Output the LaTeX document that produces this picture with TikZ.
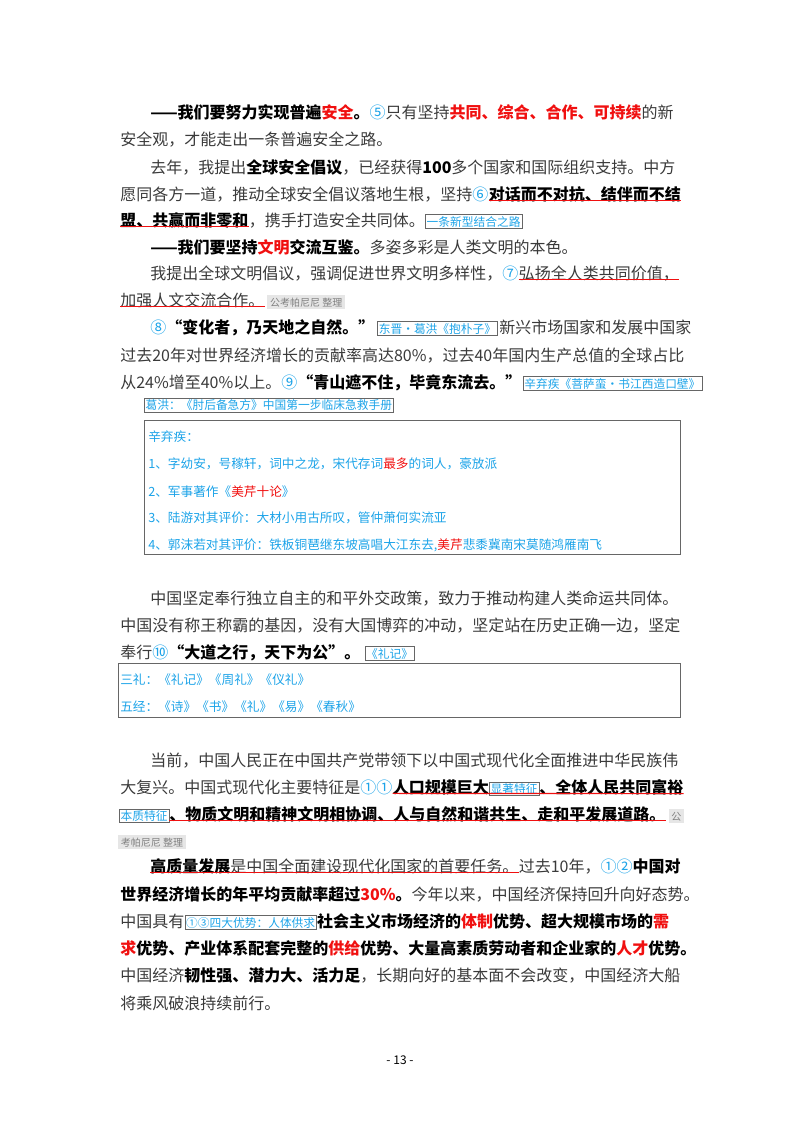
\documentclass[tikz,border=0pt]{standalone}
\usepackage{fontspec}
\setmainfont{Noto Sans CJK SC}
\usepackage{tikz}
\definecolor{body}{HTML}{3A3A3A}
\definecolor{notec}{HTML}{1CA3E8}
\definecolor{hred}{HTML}{F01010}
\definecolor{markbg}{HTML}{E6E6E6}
\newcommand{\Rd}[1]{\textcolor{hred}{#1}}
\newcommand{\Bd}[1]{\textbf{\textcolor{black}{#1}}}
\newcommand{\Nb}[1]{\textcolor{notec}{#1}}
\tikzset{
  txt/.style={inner sep=0pt, anchor=base west, text=body, font=\fontsize{12}{14}\selectfont},
  note/.style={draw=gray!80!black, inner sep=1pt, anchor=base west, text=notec, font=\fontsize{8.8}{10}\selectfont},
  small/.style={inner sep=0pt, anchor=base west, text=notec, font=\fontsize{9.5}{11}\selectfont},
  stamp/.style={fill=markbg, inner sep=2pt, anchor=base west, text=gray, font=\fontsize{7.5}{9}\selectfont},
  ul/.style={hred, line width=0.8pt}
}
\begin{document}
\begin{tikzpicture}[x=0.75pt,y=-0.75pt]
\useasboundingbox (0,0) rectangle (800,1132);
% security
\node[txt] (l1) at (150,118) {\Bd{——我们要努力实现普遍\Rd{安全}。}\Nb{⑤}只有坚持\Bd{\Rd{共同、综合、合作、可持续}}的新};
\node[txt] (l2) at (120,145) {安全观，才能走出一条普遍安全之路。};
\node[txt] (l3) at (150,173) {去年，我提出\Bd{全球安全倡议}，已经获得\Bd{100}多个国家和国际组织支持。中方};
\node[txt] (l4a) at (120,200) {愿同各方一道，推动全球安全倡议落地生根，坚持\Nb{⑥}};
\node[txt] (l4b) at (l4a.base east) {\Bd{对话而不对抗、结伴而不结}};
\node[txt] (l5a) at (120,226) {\Bd{盟、共赢而非零和}};
\node[txt] (l5b) at (l5a.base east) {，携手打造安全共同体。};
\node[note] (n1) at (l5b.base east) {一条新型结合之路};
\draw[ul] ([yshift=1pt]l4b.south west) -- ([yshift=1pt]l4b.south east);
\draw[ul] ([yshift=1pt]l5a.south west) -- ([yshift=1pt]l5a.south east);
% civilization
\node[txt] (l6) at (150,253) {\Bd{——我们要坚持\Rd{文明}交流互鉴。}多姿多彩是人类文明的本色。};
\node[txt] (l7a) at (150,279) {我提出全球文明倡议，强调促进世界文明多样性，\Nb{⑦}};
\node[txt] (l7b) at (l7a.base east) {弘扬全人类共同价值，};
\node[txt] (l8) at (120,306) {加强人文交流合作。};
\node[stamp] (s1) at ([xshift=2pt]l8.base east) {公考帕尼尼\ 整理};
\draw[ul] ([yshift=1pt]l7b.south west) -- ([yshift=1pt]l7b.south east);
\draw[ul] ([yshift=1pt]l8.south west) -- ([yshift=1pt]l8.south east);
\node[txt] (l9a) at (150,333) {\Nb{⑧}\Bd{“变化者，乃天地之自然。”}};
\node[note] (n2) at ([xshift=2pt]l9a.base east) {东晋·葛洪《抱朴子》};
\node[txt] (l9b) at ([xshift=1pt]n2.base east) {新兴市场国家和发展中国家};
\node[txt] (l10) at (120,361) {过去20年对世界经济增长的贡献率高达80\%，过去40年国内生产总值的全球占比};
\node[txt] (l11) at (120,388) {从24\%增至40\%以上。\Nb{⑨}\Bd{“青山遮不住，毕竟东流去。”}};
\node[note] (n3) at ([xshift=1pt]l11.base east) {辛弃疾《菩萨蛮·书江西造口壁》};
\node[note, anchor=north west] (n4) at (144,398) {葛洪：《肘后备急方》中国第一步临床急救手册};
\draw[gray!80!black] (144,420) rectangle (680,554);
\node[small] (x0) at (148,441) {辛弃疾：};
\node[small] (x1) at (148,468) {1、字幼安，号稼轩，词中之龙，宋代存词\Rd{最多}的词人，豪放派};
\node[small] (x2) at (148,496) {2、军事著作《\Rd{美芹十论}》};
\node[small] (x3) at (148,522) {3、陆游对其评价：大材小用古所叹，管仲萧何实流亚};
\node[small] (x4) at (148,549) {4、郭沫若对其评价：铁板铜琶继东坡高唱大江东去,\Rd{美芹}悲黍冀南宋莫随鸿雁南飞};
% diplomacy
\node[txt] (l13) at (150,604) {中国坚定奉行独立自主的和平外交政策，致力于推动构建人类命运共同体。};
\node[txt] (l14) at (120,631) {中国没有称王称霸的基因，没有大国博弈的冲动，坚定站在历史正确一边，坚定};
\node[txt] (l15) at (120,658) {奉行\Nb{⑩}\Bd{“大道之行，天下为公”。}};
\node[note] (n5) at ([xshift=3pt]l15.base east) {《礼记》};
\draw[gray!80!black] (118,663) rectangle (680,717);
\node[small] (y1) at (120,684) {三礼：《礼记》《周礼》《仪礼》};
\node[small] (y2) at (120,711) {五经：《诗》《书》《礼》《易》《春秋》};
% modernization
\node[txt] (l16) at (150,766) {当前，中国人民正在中国共产党带领下以中国式现代化全面推进中华民族伟};
\node[txt] (l17a) at (120,793) {大复兴。中国式现代化主要特征是\Nb{①①}};
\node[txt] (l17b) at (l17a.base east) {\Bd{人口规模巨大}};
\node[note] (n6) at (l17b.base east) {显著特征};
\node[txt] (l17c) at (n6.base east) {\Bd{、全体人民共同富裕}};
\node[note] (n7) at (119,820) {本质特征};
\node[txt] (l18) at (n7.base east) {\Bd{、物质文明和精神文明相协调、人与自然和谐共生、走和平发展道路。}};
\node[stamp] (s2) at ([xshift=2pt]l18.base east) {公};
\node[stamp] (s3) at (118,846) {考帕尼尼\ 整理};
\draw[ul] ([yshift=1pt]l17b.south west) -- ([yshift=1pt]l17c.south east);
\draw[ul] ([yshift=1pt]l18.south west) -- ([yshift=1pt]l18.south east);
\node[txt] (l20a) at (150,872) {\Bd{高质量发展}是中国全面建设现代化国家的首要任务。};
\node[txt] (l20b) at (l20a.base east) {过去10年，\Nb{①②}\Bd{中国对}};
\draw[ul] ([yshift=1pt]l20a.south west) -- ([yshift=1pt]l20a.south east);
\node[txt] (l21) at (120,900) {\Bd{世界经济增长的年平均贡献率超过\Rd{30\%}。}今年以来，中国经济保持回升向好态势。};
\node[txt] (l22a) at (120,927) {中国具有};
\node[note] (n8) at (l22a.base east) {①③四大优势：人体供求};
\node[txt] (l22b) at (n8.base east) {\Bd{社会主义市场经济的\Rd{体制}优势、超大规模市场的\Rd{需}}};
\node[txt] (l23) at (120,954) {\Bd{\Rd{求}优势、产业体系配套完整的\Rd{供给}优势、大量高素质劳动者和企业家的\Rd{人才}优势。}};
\node[txt] (l24) at (120,981) {中国经济\Bd{韧性强、潜力大、活力足}，长期向好的基本面不会改变，中国经济大船};
\node[txt] (l25) at (120,1009) {将乘风破浪持续前行。};
\node[txt, anchor=base, font=\fontsize{9}{10}\selectfont, text=black] (pg) at (400,1064) {- 13 -};
\end{tikzpicture}
\end{document}
